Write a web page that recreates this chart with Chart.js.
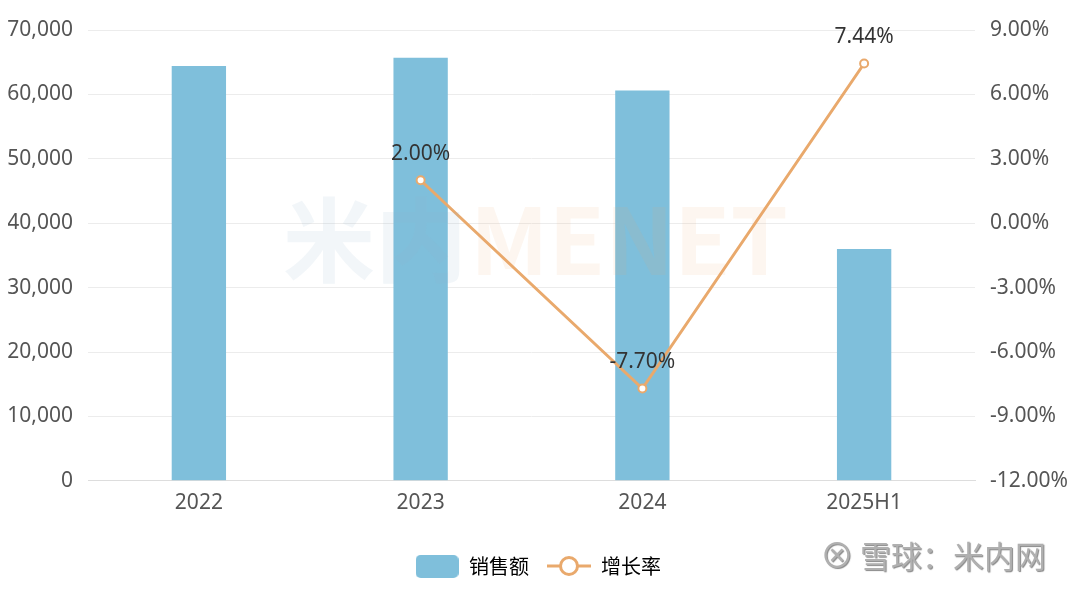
<!DOCTYPE html>
<html>
<head>
<meta charset="utf-8">
<script src="https://cdn.jsdelivr.net/npm/chart.js@4"></script>
<style>
  body { margin: 0; background: #fff; }
  #wrap { position: relative; width: 1080px; height: 589px; }
  #brand { position: absolute; left: 820px; top: 529px; font: 31px "Noto Sans CJK SC", sans-serif; color: #b0b0b0; text-shadow: 1px 1px 1px #888; white-space: nowrap; }
  #brand .logo { font-size: 34px; margin-right: 6px; }
</style>
</head>
<body>
<div id="wrap">
  <canvas id="myChart" width="1080" height="589"></canvas>
  <div id="brand"><span class="logo">⊗</span>雪球：米内网</div>
</div>
<script>
// Chart data
const categories = ['2022', '2023', '2024', '2025H1'];
const sales = [64400, 65700, 60600, 36000];
const growth = [null, 2.00, -7.70, 7.44];
const leftTicks = [0, 10000, 20000, 30000, 40000, 50000, 60000, 70000];
const rightTicks = [-12, -9, -6, -3, 0, 3, 6, 9];

const barColor = '#7fbfdb';
const lineColor = '#e9a96c';
const fontFamily = '"Noto Sans", "Noto Sans CJK SC", sans-serif';
const cjkFont = '"Noto Sans CJK SC", sans-serif';

// Legend icons
function makeBarIcon() {
    const c = document.createElement('canvas');
    c.width = 43; c.height = 24;
    const g = c.getContext('2d');
    g.fillStyle = barColor;
    g.beginPath();
    g.roundRect(0, 1, 43, 23, 5);
    g.fill();
    return c;
}

function makeLineIcon() {
    const c = document.createElement('canvas');
    c.width = 44; c.height = 24;
    const g = c.getContext('2d');
    g.strokeStyle = lineColor;
    g.lineWidth = 3;
    g.beginPath();
    g.moveTo(0, 12); g.lineTo(44, 12);
    g.stroke();
    g.fillStyle = '#fff';
    g.beginPath();
    g.arc(22, 12, 8.5, 0, Math.PI * 2);
    g.fill();
    g.stroke();
    return c;
}

// Faint watermark in the middle
const watermark = {
    id: 'watermark',
    afterDatasetsDraw(chart) {
        const ctx = chart.ctx;
        ctx.save();
        ctx.font = 'bold 92px ' + cjkFont;
        ctx.textBaseline = 'middle';
        ctx.fillStyle = 'rgba(150, 185, 205, 0.12)';
        ctx.fillText('米内', 283, 240);
        ctx.fillStyle = 'rgba(240, 170, 110, 0.10)';
        ctx.fillText('MENET', 470, 240);
        ctx.restore();
    }
};

// Value labels above the line points
const pointLabels = {
    id: 'pointLabels',
    afterDatasetsDraw(chart) {
        const ctx = chart.ctx;
        const meta = chart.getDatasetMeta(1);
        ctx.save();
        ctx.font = '21px ' + fontFamily;
        ctx.fillStyle = '#333';
        ctx.textAlign = 'center';
        ctx.textBaseline = 'middle';
        meta.data.forEach(function(pt, i) {
            if (growth[i] === null) return;
            ctx.fillText(growth[i].toFixed(2) + '%', pt.x, pt.y - 26);
        });
        ctx.restore();
    }
};

const ctx = document.getElementById('myChart').getContext('2d');
const myChart = new Chart(ctx, {
    type: 'bar',
    data: {
        labels: categories,
        datasets: [{
            label: '销售额',
            data: sales,
            backgroundColor: barColor,
            barPercentage: 0.98,
            categoryPercentage: 0.25,
            yAxisID: 'y',
            order: 2
        }, {
            type: 'line',
            label: '增长率',
            data: growth,
            borderColor: lineColor,
            borderWidth: 3,
            pointRadius: 4,
            pointBorderWidth: 2,
            pointBackgroundColor: '#fff',
            pointBorderColor: lineColor,
            yAxisID: 'y1',
            order: 1
        }]
    },
    options: {
        responsive: false,
        animation: false,
        layout: { padding: { top: 30, left: 8, right: 12, bottom: 3 } },
        plugins: {
            tooltip: { enabled: false },
            legend: {
                position: 'bottom',
                labels: {
                    usePointStyle: true,
                    pointStyleWidth: 44,
                    boxHeight: 24,
                    padding: 18,
                    color: '#444',
                    font: { size: 20, family: cjkFont },
                    generateLabels(chart) {
                        return [
                            { text: '销售额', pointStyle: makeBarIcon(), fillStyle: barColor, strokeStyle: barColor, lineWidth: 0, datasetIndex: 0 },
                            { text: '增长率', pointStyle: makeLineIcon(), fillStyle: '#fff', strokeStyle: lineColor, lineWidth: 0, datasetIndex: 1 }
                        ];
                    }
                }
            }
        },
        scales: {
            x: {
                grid: { display: false, drawTicks: false },
                border: { color: '#ddd' },
                ticks: { color: '#555', padding: 10, font: { size: 21, family: fontFamily } },
                afterFit(scale) { scale.height += 12; }
            },
            y: {
                position: 'left',
                min: 0,
                max: 70000,
                afterBuildTicks(axis) { axis.ticks = leftTicks.map(v => ({ value: v })); },
                afterFit(scale) { scale.width = 80; },
                grid: { color: '#ececec', drawTicks: false },
                border: { display: false },
                ticks: {
                    color: '#555',
                    padding: 15,
                    font: { size: 21, family: fontFamily },
                    callback: v => v.toLocaleString('en-US')
                }
            },
            y1: {
                position: 'right',
                min: -12,
                max: 9,
                afterBuildTicks(axis) { axis.ticks = rightTicks.map(v => ({ value: v })); },
                afterFit(scale) { scale.width = 93; },
                grid: { display: false, drawTicks: false },
                border: { display: false },
                ticks: {
                    color: '#555',
                    padding: 15,
                    font: { size: 21, family: fontFamily },
                    callback: v => v.toFixed(2) + '%'
                }
            }
        }
    },
    plugins: [watermark, pointLabels]
});
</script>
</body>
</html>
